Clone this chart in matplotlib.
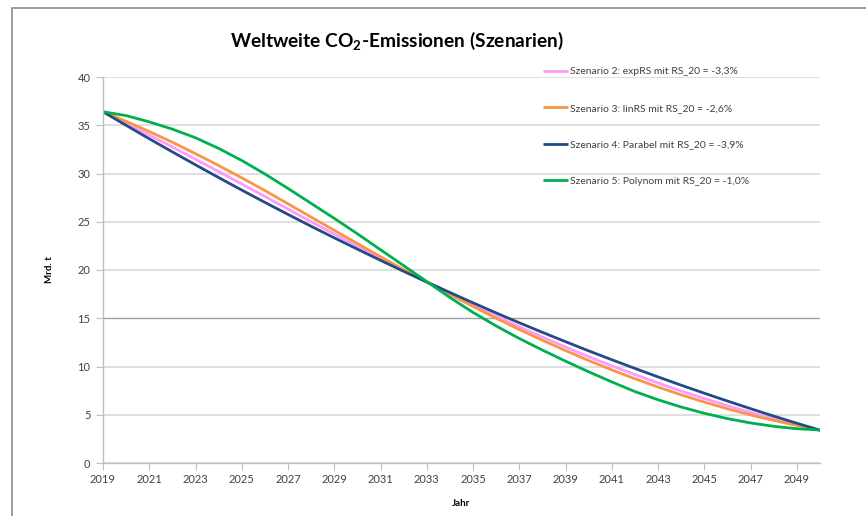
import matplotlib
matplotlib.use("Agg")
import matplotlib.pyplot as plt
from matplotlib.patches import Rectangle

plt.rcParams['font.family'] = ['Lato', 'DejaVu Sans']
plt.rcParams['mathtext.fontset'] = 'custom'
plt.rcParams['mathtext.rm'] = 'Lato:bold'

years = list(range(2019, 2051))

# Szenario 2: expRS
szen2 = [36.40, 35.20, 33.98, 32.74, 31.48, 30.20, 28.91, 27.62, 26.31, 25.00,
         23.72, 22.45, 21.19, 19.95, 18.75, 17.55, 16.37, 15.22, 14.11, 13.05,
         12.02, 11.02, 10.07, 9.16, 8.29, 7.46, 6.68, 5.94, 5.24, 4.59, 3.98, 3.40]
# Szenario 3: linRS
szen3 = [36.40, 35.41, 34.35, 33.24, 32.05, 30.83, 29.55, 28.23, 26.86, 25.48,
         24.11, 22.74, 21.38, 20.04, 18.75, 17.47, 16.22, 15.00, 13.83, 12.72,
         11.65, 10.62, 9.65, 8.73, 7.87, 7.06, 6.31, 5.62, 4.98, 4.41, 3.89, 3.40]
# Szenario 4: Parabel
szen4 = [36.40, 34.99, 33.60, 32.24, 30.90, 29.58, 28.28, 27.01, 25.76, 24.53,
         23.33, 22.16, 21.00, 19.86, 18.75, 17.67, 16.60, 15.55, 14.53, 13.54,
         12.57, 11.62, 10.70, 9.80, 8.92, 8.06, 7.23, 6.42, 5.63, 4.86, 4.12, 3.40]
# Szenario 5: Polynom
szen5 = [36.40, 36.00, 35.35, 34.60, 33.70, 32.60, 31.35, 29.95, 28.45, 26.90,
         25.35, 23.75, 22.10, 20.45, 18.80, 17.15, 15.60, 14.20, 12.90, 11.70,
         10.55, 9.45, 8.40, 7.40, 6.55, 5.80, 5.15, 4.60, 4.15, 3.80, 3.55, 3.42]

labels = ["Szenario 2: expRS mit RS_20 = -3,3%",
          "Szenario 3: linRS mit RS_20 = -2,6%",
          "Szenario 4: Parabel mit RS_20 = -3,9%",
          "Szenario 5: Polynom mit RS_20 = -1,0%"]
colors = ['#FF99FF', '#F79646', '#254A86', '#00B050']

fig = plt.figure(figsize=(8.66, 5.16), dpi=100)
ax = fig.add_axes([103/866, 1-463/516, (820-103)/866, (463-77)/516])

# outer chart frame
fig.patches.append(Rectangle((12/866, -0.1), 1.2, 1-8/516+0.1, transform=fig.transFigure,
                             fill=False, edgecolor='#8C8C8C', lw=1.2))

for vals, lab, c in zip([szen2, szen3, szen4, szen5], labels, colors):
    ax.plot(years, vals, color=c, lw=2.0, label=lab, solid_capstyle='butt')

ax.set_xlim(2019, 2050)
ax.set_ylim(0, 40)
ax.set_xticks(range(2019, 2050, 2))
ax.set_yticks(range(0, 41, 5))
ax.grid(axis='y', color='#D9D9D9', lw=1.2)
ax.get_ygridlines()[3].set_color('#A0A0A0')
ax.get_ygridlines()[3].set_linewidth(1.0)
ax.set_axisbelow(True)
for s in ['top', 'right']:
    ax.spines[s].set_visible(False)
for s in ['left', 'bottom']:
    ax.spines[s].set_color('#BFBFBF')
    ax.spines[s].set_linewidth(1.0)
ax.tick_params(axis='both', color='#BFBFBF', length=5, labelsize=8, labelcolor='#404040')
ax.tick_params(axis='x', pad=3)
ax.tick_params(axis='y', pad=4)

ax.set_xlabel("Jahr", fontsize=7, fontweight='bold', labelpad=10)
ax.set_ylabel("Mrd. t", fontsize=7, fontweight='bold', labelpad=17)

fig.text(397/866, 1-41/516, r'Weltweite CO$_{2}$-Emissionen (Szenarien)',
         ha='center', va='center', fontsize=13.8, fontweight='bold')

ax.legend(loc='upper left', bbox_to_anchor=(538/866, 1-62/516), bbox_transform=fig.transFigure,
          frameon=False, fontsize=7.5, handlelength=2.4, handletextpad=0.15,
          labelspacing=2.6, borderpad=0, labelcolor='#404040')

fig.savefig("out.png", dpi=100)
